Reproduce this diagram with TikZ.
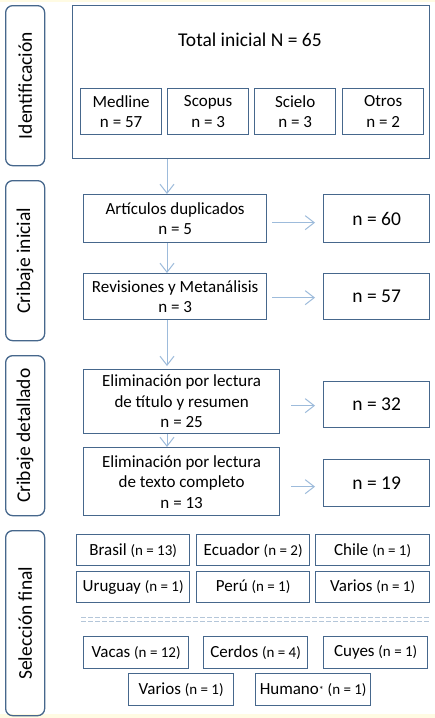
\documentclass[tikz,border=0pt]{standalone}
\usepackage{fontspec}
\setmainfont{Carlito}
\usetikzlibrary{arrows.meta}
\definecolor{bordc}{HTML}{46678C}
\definecolor{arrc}{HTML}{9DBBDB}
\definecolor{dashc}{HTML}{B4C6D9}
\definecolor{yel}{HTML}{FFFBE3}
\newcommand{\mytxt}{\fontsize{17}{20.5}\selectfont}
\newcommand{\mybig}{\fontsize{19.5}{22}\selectfont}
\newcommand{\mysm}{\fontsize{15}{17}\selectfont}
\tikzset{
  box/.style={draw=bordc, line width=1.3pt, fill=white, inner sep=0pt, anchor=north west, align=center, font=\mytxt},
  nbox/.style={box, font=\mybig},
  side/.style={draw=bordc, line width=1.3pt, rounded corners=7pt, inner sep=0pt, anchor=north west, minimum width=39pt},
  sidelab/.style={rotate=90, font=\mybig, inner sep=0pt},
  arr/.style={draw=arrc, line width=1pt, -{Straight Barb[length=9pt, width=14pt, line width=1pt]}},
  sbox/.style={box, minimum height=31pt}
}
\begin{document}
\begin{tikzpicture}[x=1pt, y=-1pt]
\useasboundingbox (0,0) rectangle (435,718);
\fill[white] (0,0) rectangle (435,718);
\fill[yel] (0,0) rectangle (435,1.5);
\fill[yel] (0,714) rectangle (435,718);

% side labels
\node[side, minimum height=160pt] (s1) at (5,5) {};
\node[sidelab] (s1l) at (s1.center) {Identificación};
\node[side, minimum height=160pt] (s2) at (5,180) {};
\node[sidelab] (s2l) at (s2.center) {Cribaje inicial};
\node[side, minimum height=160pt] (s3) at (5,355) {};
\node[sidelab] (s3l) at (s3.center) {Cribaje detallado};
\node[side, minimum height=185pt] (s4) at (5,530) {};
\node[sidelab] (s4l) at (s4.center) {Selección final};

% identification
\node[box, minimum width=357pt, minimum height=153pt] (main) at (72,5) {};
\node[font=\mybig, inner sep=0pt] (title) at (250,40) {Total inicial N = 65};
\node[box, minimum width=81pt, minimum height=46pt] (med) at (80,88) {Medline\\n = 57};
\node[box, minimum width=81pt, minimum height=46pt] (sco) at (167,88) {Scopus\\n = 3};
\node[box, minimum width=81pt, minimum height=46pt] (sci) at (254,88) {Scielo\\n = 3};
\node[box, minimum width=81pt, minimum height=46pt] (otr) at (342,88) {Otros\\n = 2};

% screening
\node[box, minimum width=183pt, minimum height=48pt] (art) at (83,194) {Artículos duplicados\\n = 5};
\node[nbox, minimum width=106pt, minimum height=48pt] (n60) at (323,194) {n = 60};
\node[box, minimum width=183pt, minimum height=46pt] (rev) at (83,273) {Revisiones y Metanálisis\\n = 3};
\node[nbox, minimum width=106pt, minimum height=46pt] (n57) at (323,273) {n = 57};
\node[box, minimum width=196pt, minimum height=64pt] (el1) at (83,369) {Eliminación por lectura\\de título y resumen\\n = 25};
\node[nbox, minimum width=106pt, minimum height=46pt] (n32) at (323,381) {n = 32};
\node[box, minimum width=196pt, minimum height=68pt] (el2) at (83,447) {Eliminación por lectura\\de texto completo\\n = 13};
\node[nbox, minimum width=106pt, minimum height=47pt] (n19) at (323,459) {n = 19};

% vertical arrows
\coordinate (ax) at (167,0);
\draw[arr] (main.south -| ax) -- (art.north -| ax);
\draw[arr] (art.south -| ax) -- (rev.north -| ax);
\draw[arr] (rev.south -| ax) -- ([yshift=3pt]el1.north -| ax);
\draw[arr] (el1.south -| ax) -- (el2.north -| ax);

% horizontal arrows
\draw[arr, shorten <=5pt, shorten >=8pt] ([yshift=-4pt]art.east) -- ([yshift=-4pt]art.east -| n60.west);
\draw[arr, shorten <=5pt, shorten >=8pt] ([yshift=-1pt]rev.east) -- ([yshift=-1pt]rev.east -| n57.west);
\draw[arr, shorten <=11pt, shorten >=8pt] ([yshift=-4pt]el1.east) -- ([yshift=-4pt]el1.east -| n32.west);
\draw[arr, shorten <=11pt, shorten >=8pt] ([yshift=-5pt]el2.east) -- ([yshift=-5pt]el2.east -| n19.west);

% final selection - countries
\node[sbox, minimum width=113pt] (bra) at (76,534) {Brasil {\mysm(n = 13)}};
\node[sbox, minimum width=113pt] (ecu) at (196,534) {Ecuador {\mysm(n = 2)}};
\node[sbox, minimum width=114pt] (chi) at (315,534) {Chile {\mysm(n = 1)}};
\node[sbox, minimum width=113pt] (uru) at (76,571) {Uruguay {\mysm(n = 1)}};
\node[sbox, minimum width=113pt] (per) at (196,571) {Perú {\mysm(n = 1)}};
\node[sbox, minimum width=114pt] (var1) at (315,571) {Varios {\mysm(n = 1)}};

% dashed double line
\coordinate (d1a) at (81,617);
\coordinate (d1b) at (430,617);
\coordinate (d2a) at (81,621.5);
\coordinate (d2b) at (430,621.5);
\draw[dashc, line width=1pt, dash pattern=on 5pt off 2pt] (d1a) -- (d1b);
\draw[dashc, line width=1pt, dash pattern=on 5pt off 2pt] (d2a) -- (d2b);

% final selection - species
\node[sbox, minimum width=105pt, minimum height=32pt] (vac) at (83,636) {Vacas {\mysm(n = 12)}};
\node[sbox, minimum width=104pt, minimum height=32pt] (cer) at (203,636) {Cerdos {\mysm(n = 4)}};
\node[sbox, minimum width=104pt, minimum height=32pt] (cuy) at (323,636) {Cuyes {\mysm(n = 1)}};
\node[sbox, minimum width=105pt, minimum height=32pt] (var2) at (128,673) {Varios {\mysm(n = 1)}};
\node[sbox, minimum width=115pt, minimum height=32pt] (hum) at (255,673) {Humano\raisebox{1pt}{\fontsize{10}{10}\selectfont*} {\mysm(n = 1)}};
\end{tikzpicture}
\end{document}
